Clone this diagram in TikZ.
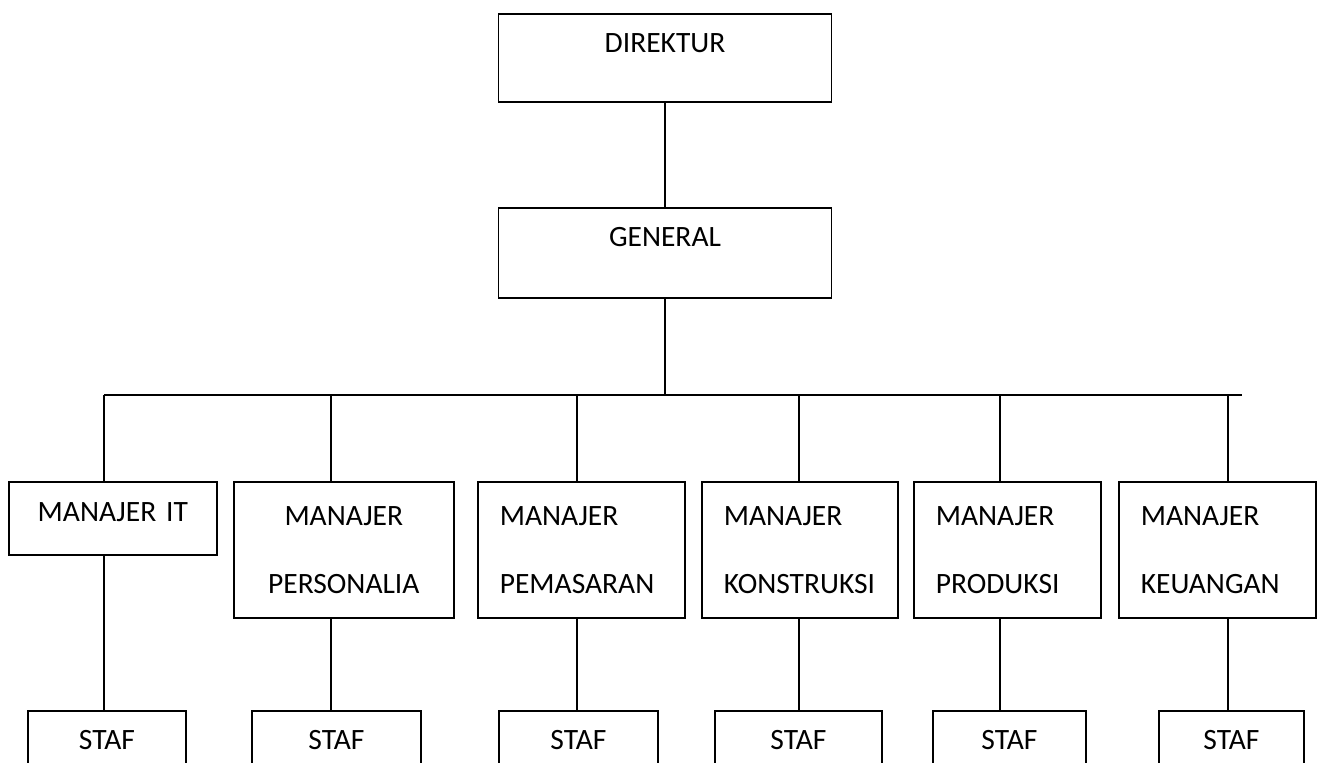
\documentclass[tikz,border=0pt]{standalone}
\usepackage{fontspec}
\setmainfont{Carlito}

\begin{document}
\begin{tikzpicture}[%
    x=1pt, y=-1pt,
    line width=1.6pt,
    basic/.style={draw,inner sep=0pt,font=\fontsize{29.5pt}{68pt}\selectfont},
    top/.style={basic,anchor=north,align=center,text height=39pt},
    manager/.style={basic,anchor=north west,minimum height=136pt},
    staff/.style={top,text depth=45pt}
]
        \useasboundingbox (0,0) rectangle (1320,763);
        \clip (0,0) rectangle (1320,763);

        \node[top,text width=333pt,text depth=49pt] (dir) at (665,13) {DIREKTUR};
        \node[top,text width=333pt,text depth=51pt] (gen) at (665,207) {GENERAL};

        \node[manager,minimum height=0pt,text width=208pt,align=center,text height=40pt,text depth=33pt] (m1) at (8,481) {MANAJER IT};
        \node[manager,text width=220pt,align=center] (m2) at (233,481) {MANAJER\\PERSONALIA};
        \node[manager,text width=163pt,inner xsep=22pt,align=left] (m3) at (477,481) {MANAJER\\PEMASARAN};
        \node[manager,text width=152pt,inner xsep=22pt,align=left] (m4) at (701,481) {MANAJER\\KONSTRUKSI};
        \node[manager,text width=143pt,inner xsep=22pt,align=left] (m5) at (913,481) {MANAJER\\PRODUKSI};
        \node[manager,text width=153pt,inner xsep=22pt,align=left] (m6) at (1118,481) {MANAJER\\KEUANGAN};

        \node[staff,text width=158pt] (s1) at (107,710) {STAF};
        \node[staff,text width=169pt] (s2) at (336.5,710) {STAF};
        \node[staff,text width=159pt] (s3) at (578.5,710) {STAF};
        \node[staff,text width=167pt] (s4) at (798.5,710) {STAF};
        \node[staff,text width=153pt] (s5) at (1009.5,710) {STAF};
        \node[staff,text width=145pt] (s6) at (1231.5,710) {STAF};

        % branch points on the bus
        \coordinate (b1) at (104,395);
        \coordinate (b2) at (331,395);
        \coordinate (b3) at (577,395);
        \coordinate (b4) at (799,395);
        \coordinate (b5) at (1000,395);
        \coordinate (b6) at (1228,395);
        \coordinate (bend) at (1242,395);

        \path[draw] (dir) -- (gen);
        \path[draw] (gen.south) -- (gen.south |- b1);
        \path[draw,line width=2.2pt] (b1) -- (bend);
        \foreach \i in {1,...,6}{
            \path[draw] (b\i) -- (b\i |- m\i.north);
            \path[draw] (m\i.south -| b\i) -- (s\i.north -| b\i);
        }
\end{tikzpicture}
\end{document}
